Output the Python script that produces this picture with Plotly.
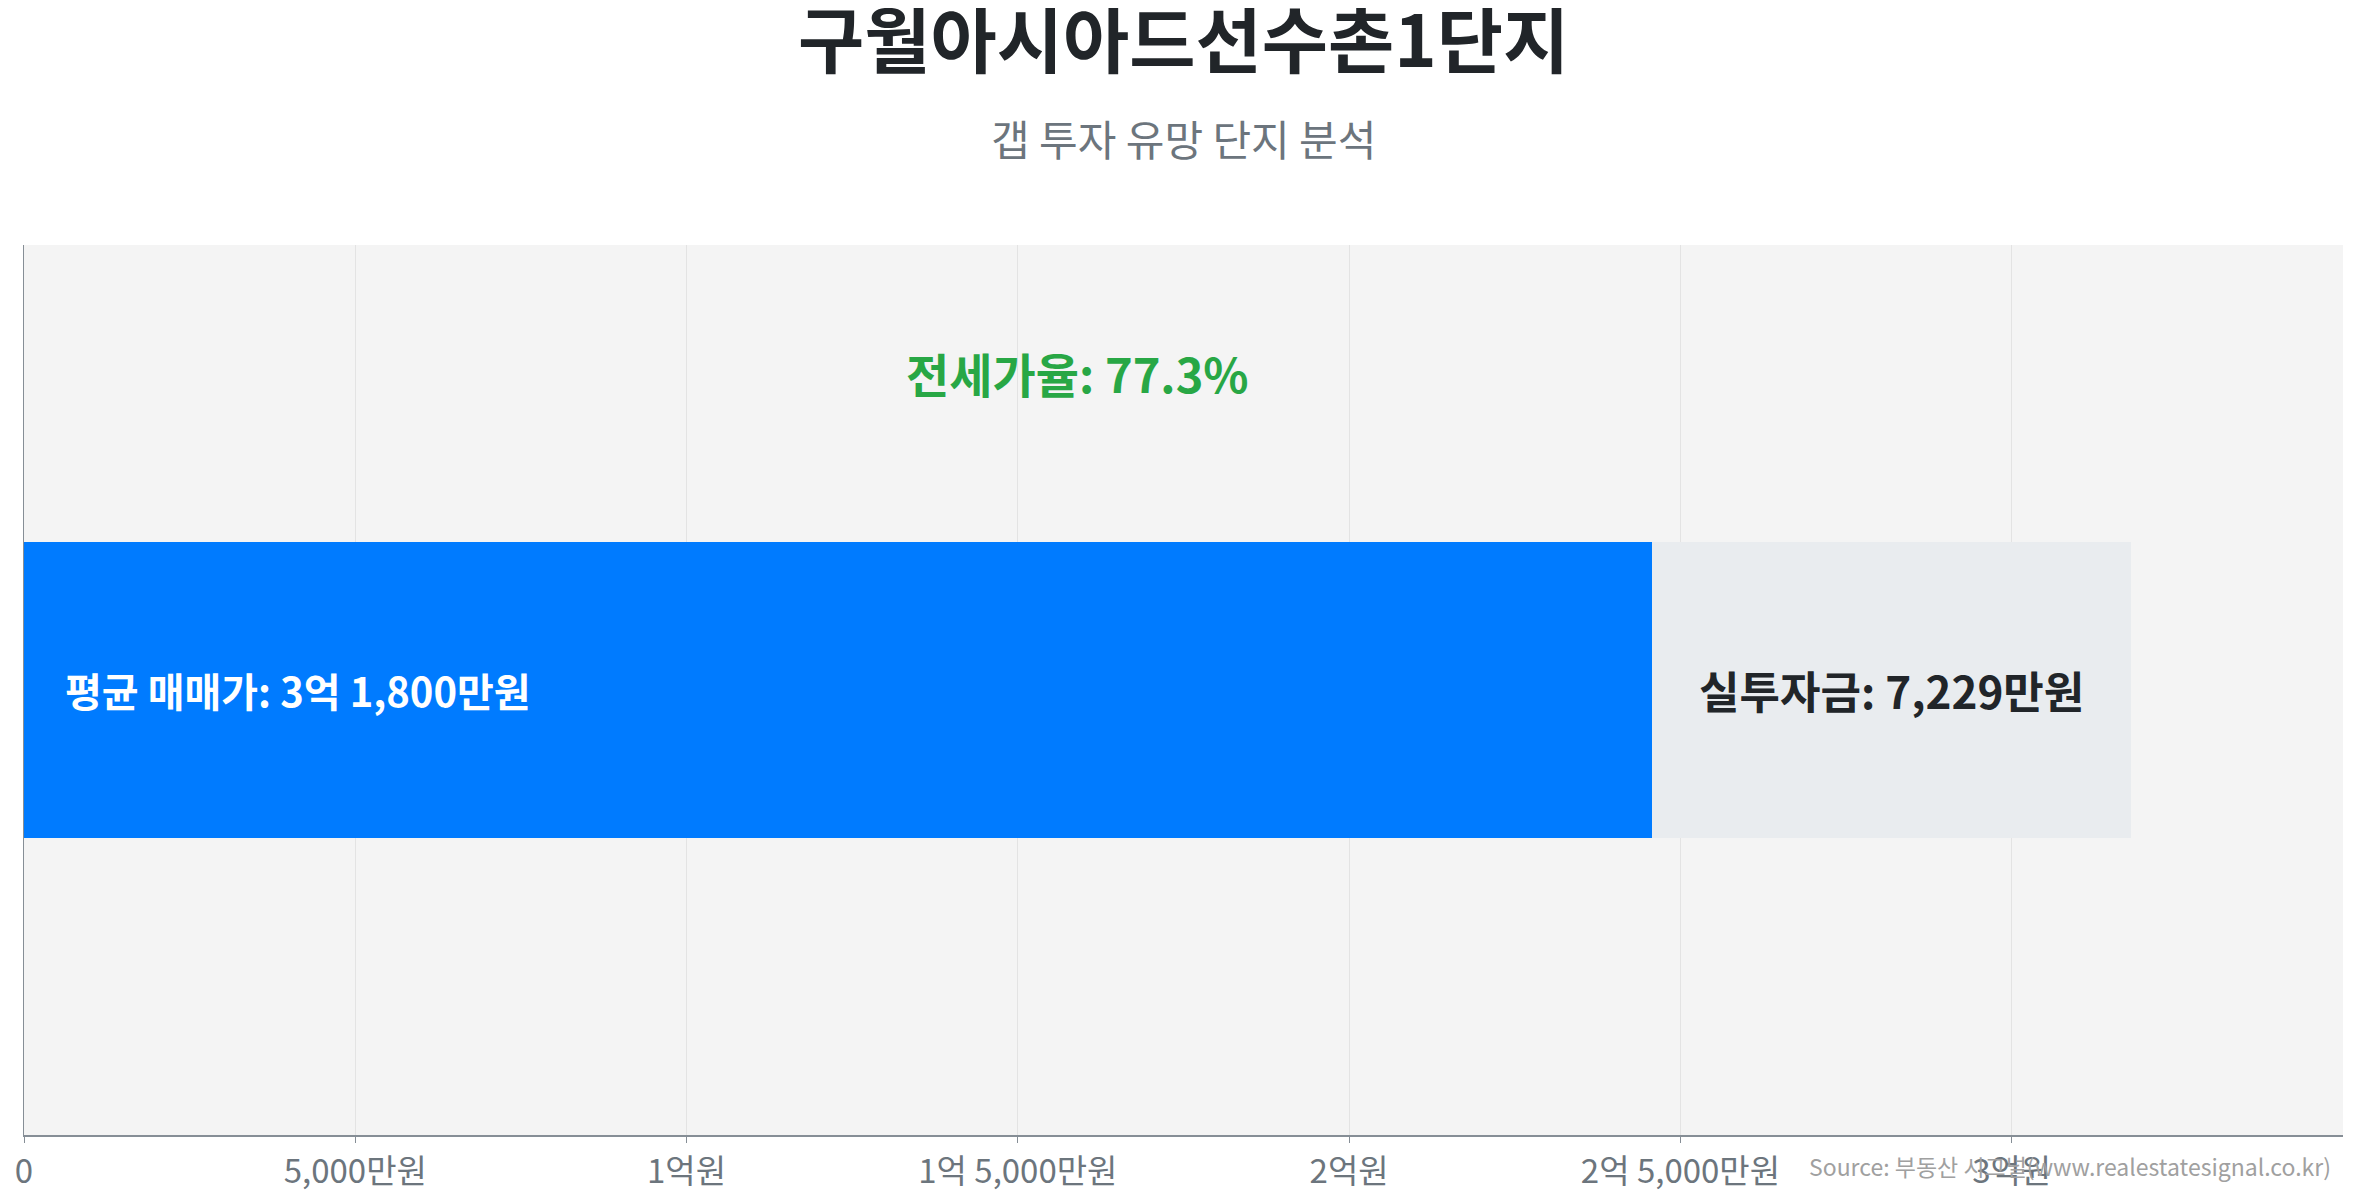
import plotly.graph_objects as go

# 데이터 (단위: 만원)
complex_name = "구월아시아드선수촌1단지"
subtitle = "갭 투자 유망 단지 분석"
sale_price = 31800        # 평균 매매가
gap_amount = 7229         # 실투자금
jeonse_ratio = 77.3       # 전세가율 (%)
jeonse_amount = sale_price - gap_amount

tick_vals = [0, 5000, 10000, 15000, 20000, 25000, 30000]
tick_text = ["0", "5,000만원", "1억원", "1억 5,000만원", "2억원", "2억 5,000만원", "3억원"]

FONT = "Noto Sans CJK KR"

fig = go.Figure()
fig.add_trace(go.Bar(
    x=[jeonse_amount], y=[0], orientation="h", width=1,
    marker=dict(color="#007bff", line=dict(width=0)),
    hoverinfo="skip", showlegend=False,
))
fig.add_trace(go.Bar(
    x=[gap_amount], y=[0], orientation="h", width=1,
    marker=dict(color="#e9ecef", line=dict(width=0)),
    hoverinfo="skip", showlegend=False,
))

# 제목 / 부제목
fig.add_annotation(
    x=0.5, y=1.235, xref="paper", yref="paper", yanchor="middle",
    text=f"<b>{complex_name}</b>", showarrow=False,
    font=dict(family=FONT, size=72, color="#212529"),
)
fig.add_annotation(
    x=0.5, y=1.121, xref="paper", yref="paper", yanchor="middle",
    text=subtitle, showarrow=False,
    font=dict(family=FONT, size=42, color="#6c757d"),
)

# 막대 안 라벨
fig.add_annotation(
    x=0, y=0, xref="x", yref="y", xanchor="left", xshift=39,
    text=f"<b>평균 매매가: 3억 1,800만원</b>", showarrow=False,
    font=dict(family=FONT, size=40, color="white"),
)
fig.add_annotation(
    x=jeonse_amount + gap_amount / 2, y=0, xref="x", yref="y",
    text=f"<b>실투자금: {gap_amount:,}만원</b>", showarrow=False,
    font=dict(family=FONT, size=44, color="#212529"),
)
fig.add_annotation(
    x=sale_price / 2, y=1.07, xref="x", yref="y",
    text=f"<b>전세가율: {jeonse_ratio}%</b>", showarrow=False,
    font=dict(family=FONT, size=47, color="#28a745"),
)
fig.add_annotation(
    x=1, y=0, xref="paper", yref="paper", xanchor="right", yanchor="middle",
    yshift=-31, xshift=-10,
    text="Source: 부동산 시그널(www.realestatesignal.co.kr)", showarrow=False,
    font=dict(family=FONT, size=23, color="#a0a0a0"),
)

# 페이지 기본 여백(8px)을 고려한 크기
fig.update_layout(
    barmode="stack",
    width=2341, height=1184,
    margin=dict(l=16, r=6, t=237, b=57),
    paper_bgcolor="white",
    plot_bgcolor="#f4f4f4",
    xaxis=dict(
        range=[0, 35000], tickvals=tick_vals, ticktext=tick_text,
        showgrid=True, gridcolor="#e3e3e3", gridwidth=1,
        showline=True, linecolor="#868e96", linewidth=2,
        ticks="outside", ticklen=6, tickcolor="#868e96",
        tickfont=dict(family=FONT, size=33, color="#6c757d"),
        zeroline=False, fixedrange=True, automargin=False,
    ),
    yaxis=dict(
        range=[-1.5, 1.5], showticklabels=False, showgrid=False,
        zeroline=False, showline=True, linecolor="#868e96", linewidth=1,
        automargin=False,
    ),
    font=dict(family=FONT),
)

fig.write_html("out.html")
